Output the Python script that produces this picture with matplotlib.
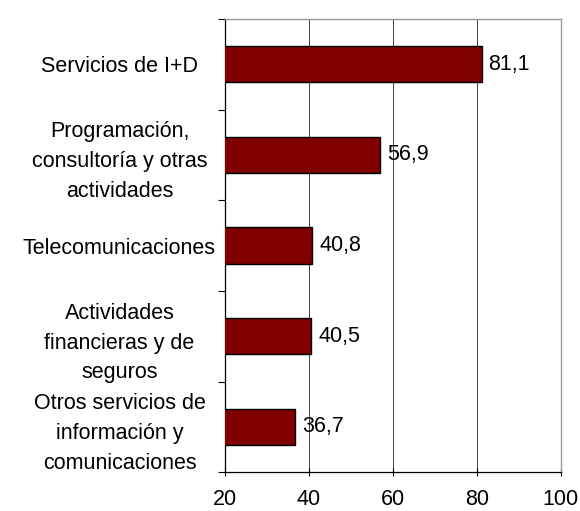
import numpy as np
import matplotlib
matplotlib.use("Agg")
import matplotlib.pyplot as plt

# categories top to bottom, as in the reference
categories = [
    "Servicios de I+D",
    "Programación,\nconsultoría y otras\nactividades",
    "Telecomunicaciones",
    "Actividades\nfinancieras y de\nseguros",
    "Otros servicios de\ninformación y\ncomunicaciones",
]
values = [81.1, 56.9, 40.8, 40.5, 36.7]
x_ticks = [20, 40, 60, 80, 100]

plt.rcParams["font.family"] = ["Liberation Sans", "DejaVu Sans"]
plt.rcParams["font.size"] = 15.5

fig = plt.figure(figsize=(5.8, 5.11), dpi=100)
ax = fig.add_axes([0.388, 0.076, 0.579, 0.887])

pos = np.arange(len(categories))
ax.barh(pos, values, height=0.4, color="#800000", edgecolor="black",
        linewidth=1.0, zorder=3)

# value labels with a decimal comma
for p, v in zip(pos, values):
    ax.annotate(f"{v:.1f}".replace(".", ","), xy=(v, p), xytext=(5, 0),
                textcoords="offset points", va="center", ha="left")

ax.set_xlim(20, 100)
ax.set_ylim(len(categories) - 0.5, -0.5)
ax.set_xticks(x_ticks)
ax.tick_params(axis="x", direction="inout", length=6, width=0.8, pad=9)

# labels centred in the space left of the axis, ticks at category borders
ax.set_yticks(pos)
ax.set_yticklabels(categories, ha="center", multialignment="center",
                   linespacing=1.55)
ax.tick_params(axis="y", which="major", length=0, pad=76)
ax.set_yticks(np.arange(-0.5, len(categories), 1), minor=True)
ax.tick_params(axis="y", which="minor", direction="out", length=5, width=0.8)

ax.grid(axis="x", color="#404040", linewidth=0.7, zorder=0)
ax.set_axisbelow(True)
for side in ["top", "right"]:
    ax.spines[side].set_color("#9a9a9a")
    ax.spines[side].set_linewidth(1.0)
for side in ["left", "bottom"]:
    ax.spines[side].set_color("black")
    ax.spines[side].set_linewidth(0.9)

fig.savefig("out.png", dpi=100)
